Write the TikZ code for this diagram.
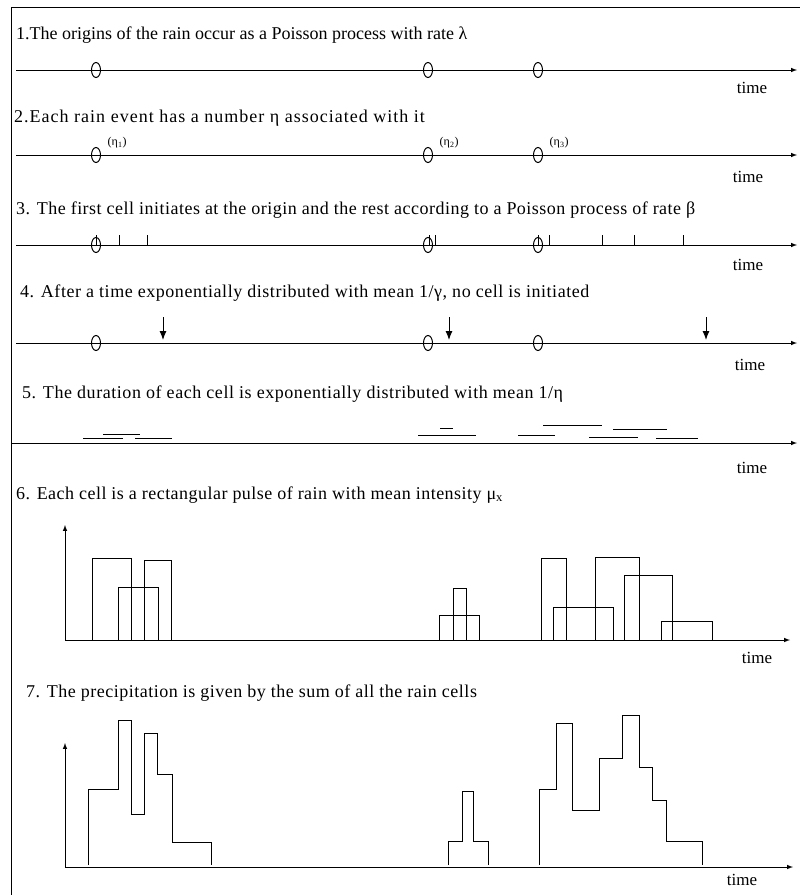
\documentclass[tikz,border=0pt]{standalone}
\usepackage{fontspec}
\setmainfont{Liberation Serif}
\usetikzlibrary{shapes.geometric,arrows.meta}
\tikzset{>=latex}
\tikzset{
  axis/.style={->,line width=1pt},
  stopper/.style={-{Latex[length=9pt,width=7pt]},line width=1pt},
  origin/.style={draw,ellipse,line width=1pt,minimum width=9pt,minimum height=15pt,inner sep=0pt},
  caption/.style={anchor=base west,inner sep=0pt,
    font=\fontsize{18}{21}\selectfont\addfontfeature{LetterSpace=#1}},
  caption/.default=0,
  timelabel/.style={inner sep=0pt,font=\fontsize{17}{20}\selectfont},
  etalabel/.style={anchor=west,inner sep=0pt,font=\fontsize{12}{14}\selectfont},
  pulse/.style={line width=0.9pt},
}

\begin{document}
\begin{tikzpicture}[x=1pt,y=-1pt]
  \useasboundingbox (0,0) rectangle (803,895);
  % frame
  \draw[line width=1pt] (11,895) -- (11,7) -- (800,7);

  % 1. origins
  \node[caption] (cap1) at (16,39) {1.The origins of the rain occur as a Poisson process with rate λ};
  \coordinate (s1) at (16,70);
  \coordinate (e1) at (797,70);
  \draw[axis] (s1) -- (e1);
  \foreach \x [count=\i] in {96,428,538}
    \node[origin] (o1\i) at (\x,70) {};
  \node[timelabel] (t1) at (752,88) {time};

  % 2. eta
  \node[caption=5.6] (cap2) at (14,122) {2.Each rain event has a number η associated with it};
  \coordinate (s2) at (16,155);
  \coordinate (e2) at (797,155);
  \draw[axis] (s2) -- (e2);
  \foreach \x [count=\i] in {96,428,538} {
    \node[origin] (o2\i) at (\x,155) {};
    \node[etalabel] (eta\i) at ([xshift=8pt,yshift=7pt]o2\i.north east) {(η\textsubscript{\i})};
  }
  \node[timelabel] (t2) at (748,177) {time};

  % 3. cells
  \node[caption=2.7] (cap3) at (16,214) {3. The first cell initiates at the origin and the rest according to a Poisson process of rate β};
  \coordinate (s3) at (16,245);
  \coordinate (e3) at (797,245);
  \draw[axis] (s3) -- (e3);
  \foreach \x [count=\i] in {96,428,538}
    \node[origin] (o3\i) at (\x,245) {};
  \foreach \x in {96,119,147,429,435,538,549,602,634,683}
    \draw[line width=0.9pt] (\x,245) -- (\x,235);
  \node[timelabel] (t3) at (748,265) {time};

  % 4. end of cell initiation
  \node[caption=3] (cap4) at (20,297) {4. After a time exponentially distributed with mean 1/γ, no cell is initiated};
  \coordinate (s4) at (16,343);
  \coordinate (e4) at (797,343);
  \draw[axis] (s4) -- (e4);
  \foreach \x [count=\i] in {96,428,538}
    \node[origin] (o4\i) at (\x,343) {};
  \foreach \x [count=\i] in {163,449,706} {
    \coordinate (stop\i) at (\x,317);
    \coordinate (stopend\i) at (\x,340);
    \draw[stopper] (stop\i) -- (stopend\i);
  }
  \node[timelabel] (t4) at (750,365) {time};

  % 5. durations
  \node[caption=3.1] (cap5) at (22,398) {5. The duration of each cell is exponentially distributed with mean 1/η};
  \coordinate (s5) at (11,443);
  \coordinate (e5) at (797,443);
  \draw[axis] (s5) -- (e5);
  \foreach \a/\b/\y in {83/123/438, 103/140/434, 135/172/438,
                        418/476/435, 440/453/428,
                        518/555/435, 543/602/425, 589/638/437, 613/667/429, 656/698/438}
    \draw[pulse] (\a,\y) -- (\b,\y);
  \node[timelabel] (t5) at (752,468) {time};

  % 6. rectangular pulses
  \node[caption=2.6] (cap6) at (16,499) {6. Each cell is a rectangular pulse of rain with mean intensity μ\textsubscript{x}};
  \coordinate (o6) at (65,640);
  \coordinate (y6) at (65,525);
  \coordinate (x6) at (790,640);
  \draw[axis] (o6) -- (y6);
  \draw[axis] (o6) -- (x6);
  \foreach \a/\b/\h in {92/131/558, 118/158/587, 144/171/560,
                        439/479/615, 453/466/588,
                        541/566/558, 553/613/607, 595/639/557, 624/672/575, 661/712/621}
    \draw[pulse] (\a,640) -- (\a,\h) -- (\b,\h) -- (\b,640);
  \node[timelabel] (t6) at (757,658) {time};

  % 7. total precipitation
  \node[caption=2.8] (cap7) at (26,697) {7. The precipitation is given by the sum of all the rain cells};
  \coordinate (o7) at (65,867);
  \coordinate (y7) at (65,743);
  \coordinate (x7) at (793,867);
  \draw[axis] (o7) -- (y7);
  \draw[axis] (o7) -- (x7);
  \draw[pulse] (88,865) |- (118,789) |- (131,720) |- (144,814) |- (157,733)
    |- (172,774) |- (211,842) -- (211,865);
  \draw[pulse] (448,865) |- (462,841) |- (473,791) |- (488,841) -- (488,865);
  \draw[pulse] (539,865) |- (556,789) |- (572,723) |- (599,810) |- (622,758)
    |- (639,715) |- (652,767) |- (666,800) |- (702,841) -- (702,865);
  \node[timelabel] (t7) at (742,880) {time};
\end{tikzpicture}
\end{document}
